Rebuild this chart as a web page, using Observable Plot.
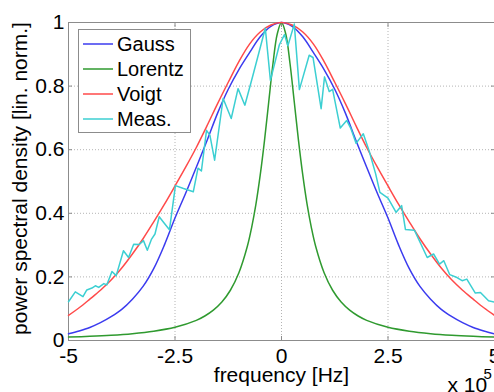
<!DOCTYPE html>
<html>
<head>
<meta charset="utf-8">
<script src="https://cdn.jsdelivr.net/npm/d3@7"></script>
<script src="https://cdn.jsdelivr.net/npm/@observablehq/plot@0.6"></script>
<style>
  html, body { margin: 0; padding: 0; background: #fff; overflow: hidden; }
  #wrap { position: relative; width: 494px; height: 392px; }
  #legend { position: absolute; left: 78px; top: 29px; width: 113px; height: 104px;
            border: 1px solid #8c8c8c; background: #fff; box-sizing: border-box;
            font-family: 'Liberation Sans', Arial, Helvetica, sans-serif; font-size: 20px; }
  .row { position: absolute; left: 0; height: 24px; width: 110px; }
  .row svg { position: absolute; left: 4px; top: 0; }
  .lbl { position: absolute; left: 38px; top: 0; line-height: 24px; color: #000; white-space: nowrap; }
</style>
</head>
<body>
<div id="wrap">
  <div id="chart"></div>
  <div id="legend"></div>
</div>
<script>
// ---- axis ticks / labels ----
const xTicks = [-5, -2.5, 0, 2.5, 5];
const xTickLabels = ["-5", "-2.5", "0", "2.5", "5"];
const yTicks = [0, 0.2, 0.4, 0.6, 0.8, 1];
const yTickLabels = ["0", "0.2", "0.4", "0.6", "0.8", "1"];
const xLabel = "frequency [Hz]";
const yLabel = "power spectral density [lin. norm.]";
const expBase = "x 10";
const expPower = "5";

// ---- series ----
const seriesNames = ["Gauss", "Lorentz", "Voigt", "Meas."];
const seriesColors = ["#3b3bef", "#2f9a2f", "#ff4a4a", "#3ccfd2"];

const gaussFreq = [-5,-4.75,-4.5,-4.25,-4,-3.75,-3.5,-3.25,-3,-2.75,-2.5,-2.25,-2,-1.75,-1.5,-1.25,-1,-0.75,-0.5,-0.25,0,0.25,0.5,0.75,1,1.25,1.5,1.75,2,2.25,2.5,2.75,3,3.25,3.5,3.75,4,4.25,4.5,4.75,5];
const gaussVals = [0.021,0.03,0.041,0.056,0.075,0.098,0.13,0.17,0.226,0.30,0.385,0.463,0.545,0.628,0.715,0.79,0.852,0.905,0.955,0.988,1.000,0.988,0.955,0.905,0.852,0.79,0.715,0.628,0.545,0.463,0.385,0.30,0.226,0.17,0.13,0.098,0.075,0.056,0.041,0.03,0.021];

const lorentzFreq = [-5,-4.5,-4,-3.5,-3,-2.5,-2,-1.8,-1.6,-1.4,-1.2,-1,-0.8,-0.7,-0.6,-0.5,-0.4,-0.3,-0.2,-0.1,0,0.1,0.2,0.3,0.4,0.5,0.6,0.7,0.8,1,1.2,1.4,1.6,1.8,2,2.5,3,3.5,4,4.5,5];
const lorentzVals = [0.0107,0.0132,0.0166,0.0216,0.0292,0.0415,0.0633,0.077,0.0955,0.121,0.158,0.213,0.297,0.356,0.429,0.52,0.628,0.75,0.871,0.964,1.000,0.964,0.871,0.75,0.628,0.52,0.429,0.356,0.297,0.213,0.158,0.121,0.0955,0.077,0.0633,0.0415,0.0292,0.0216,0.0166,0.0132,0.0107];

const voigtFreq = [-5,-4.75,-4.5,-4.25,-4,-3.75,-3.5,-3.25,-3,-2.75,-2.5,-2.25,-2,-1.75,-1.5,-1.25,-1,-0.75,-0.5,-0.25,0,0.25,0.5,0.75,1,1.25,1.5,1.75,2,2.25,2.5,2.75,3,3.25,3.5,3.75,4,4.25,4.5,4.75,5];
const voigtVals = [0.079,0.103,0.13,0.158,0.19,0.228,0.272,0.32,0.373,0.428,0.486,0.545,0.607,0.675,0.745,0.812,0.877,0.932,0.97,0.992,1.000,0.992,0.97,0.932,0.877,0.812,0.745,0.675,0.607,0.545,0.486,0.428,0.373,0.32,0.272,0.228,0.19,0.158,0.13,0.103,0.079];

const measFreq = [-5,-4.84,-4.66,-4.57,-4.45,-4.37,-4.29,-4.17,-4.10,-3.98,-3.88,-3.71,-3.59,-3.47,-3.34,-3.24,-3.15,-3.05,-2.97,-2.87,-2.77,-2.63,-2.49,-2.30,-2.07,-1.96,-1.88,-1.76,-1.68,-1.57,-1.37,-1.18,-1.02,-0.86,-0.67,-0.38,-0.26,-0.05,0.07,0.15,0.30,0.42,0.65,0.74,0.93,1.01,1.12,1.20,1.38,1.53,1.63,1.75,1.92,2.06,2.21,2.31,2.50,2.69,2.82,2.91,3.12,3.42,3.57,3.71,3.81,3.95,4.12,4.24,4.35,4.55,4.67,4.86,5];
const measVals = [0.122,0.153,0.138,0.159,0.165,0.172,0.167,0.179,0.175,0.217,0.204,0.282,0.261,0.303,0.302,0.314,0.284,0.319,0.335,0.389,0.372,0.348,0.487,0.478,0.468,0.542,0.533,0.661,0.645,0.567,0.761,0.698,0.792,0.74,0.834,0.982,0.818,0.93,0.962,0.927,0.995,0.789,0.897,0.89,0.729,0.829,0.783,0.79,0.668,0.692,0.666,0.62,0.65,0.595,0.524,0.466,0.448,0.403,0.424,0.349,0.347,0.261,0.272,0.240,0.251,0.207,0.198,0.188,0.193,0.149,0.151,0.125,0.121];

const toRows = (fs, vs) => fs.map((f, i) => ({f, v: vs[i]}));
const gauss = toRows(gaussFreq, gaussVals);
const lorentz = toRows(lorentzFreq, lorentzVals);
const voigt = toRows(voigtFreq, voigtVals);
const meas = toRows(measFreq, measVals);

const font = "'Liberation Sans', Arial, Helvetica, sans-serif";
const frameColor = "#8c8c8c";
const gridStyle = {stroke: "#b4b4b4", strokeOpacity: 1, strokeDasharray: "1,2", strokeWidth: 1};
const blank = () => "";

const chart = Plot.plot({
  width: 494,
  height: 392,
  marginLeft: 68,
  marginRight: 0,
  marginTop: 22,
  marginBottom: 52,
  style: {fontFamily: font, fontSize: "21px", color: "#000", background: "#fff", overflow: "visible"},
  x: {domain: [-5, 5]},
  y: {domain: [0, 1]},
  marks: [
    Plot.gridX(xTicks, gridStyle),
    Plot.gridY(yTicks, gridStyle),
    Plot.frame({stroke: frameColor}),
    Plot.axisX(xTicks, {anchor: "bottom", tickSize: -4, stroke: frameColor, tickFormat: blank, label: null}),
    Plot.axisX(xTicks, {anchor: "top", tickSize: -4, stroke: frameColor, tickFormat: blank, label: null}),
    Plot.axisY(yTicks, {anchor: "left", tickSize: -4, stroke: frameColor, tickFormat: blank, label: null}),
    Plot.axisY(yTicks, {anchor: "right", tickSize: -4, stroke: frameColor, tickFormat: blank, label: null}),
    Plot.axisX(xTicks, {anchor: "bottom", tickSize: 0, tickPadding: 8, tickFormat: d => xTickLabels[xTicks.indexOf(d)], label: null, fill: "#000"}),
    Plot.axisY(yTicks, {anchor: "left", tickSize: 0, tickPadding: 4, tickFormat: d => yTickLabels[yTicks.indexOf(d)], label: null, fill: "#000"}),
    Plot.line(gauss, {x: "f", y: "v", stroke: seriesColors[0], strokeWidth: 1.5, curve: "catmull-rom"}),
    Plot.line(lorentz, {x: "f", y: "v", stroke: seriesColors[1], strokeWidth: 1.5, curve: "catmull-rom"}),
    Plot.line(voigt, {x: "f", y: "v", stroke: seriesColors[2], strokeWidth: 1.5, curve: "catmull-rom"}),
    Plot.line(meas, {x: "f", y: "v", stroke: seriesColors[3], strokeWidth: 1.5}),
    Plot.text([xLabel], {frameAnchor: "bottom", textAnchor: "middle", lineAnchor: "middle", dy: 35, fill: "#000"}),
    Plot.text([yLabel], {frameAnchor: "left", textAnchor: "middle", lineAnchor: "middle", rotate: -90, dx: -48, dy: -3, fill: "#000"}),
    Plot.text([expBase], {frameAnchor: "bottom-right", textAnchor: "start", lineAnchor: "middle", dx: -47, dy: 45, fill: "#000"}),
    Plot.text([expPower], {frameAnchor: "bottom-right", textAnchor: "start", lineAnchor: "middle", dx: -11, dy: 34, fontSize: 15, fill: "#000"})
  ]
});
document.getElementById("chart").appendChild(chart);

// legend (inside the axes, as in the original)
const legend = document.getElementById("legend");
const svgNS = "http://www.w3.org/2000/svg";
seriesNames.forEach((name, i) => {
  const row = document.createElement("div");
  row.className = "row";
  row.style.top = (2 + i * 25.1) + "px";
  const sw = document.createElementNS(svgNS, "svg");
  sw.setAttribute("width", "32");
  sw.setAttribute("height", "24");
  const ln = document.createElementNS(svgNS, "line");
  ln.setAttribute("x1", "0"); ln.setAttribute("x2", "30");
  ln.setAttribute("y1", "12"); ln.setAttribute("y2", "12");
  ln.setAttribute("stroke", seriesColors[i]);
  ln.setAttribute("stroke-width", "1.5");
  sw.appendChild(ln);
  const lb = document.createElement("div");
  lb.className = "lbl";
  lb.textContent = name;
  row.appendChild(sw);
  row.appendChild(lb);
  legend.appendChild(row);
});
</script>
</body>
</html>
